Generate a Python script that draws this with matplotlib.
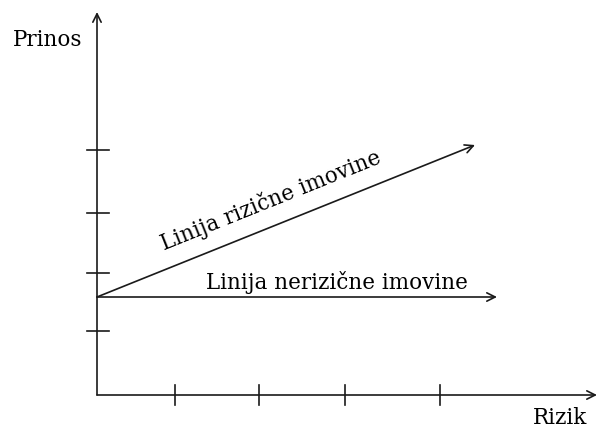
import numpy as np
import matplotlib
matplotlib.use('Agg')
import matplotlib.pyplot as plt

# axis extents (risk, return)
x_axis_end = 5.0
y_axis_end = 3.83

# tick positions
x_ticks = [0.78, 1.62, 2.48, 3.43]
y_ticks = [0.64, 1.22, 1.82, 2.45]

# lines: start and end points
risk_free = 0.98
riskless_end = [4.00, 0.98]
risky_end = [3.78, 2.50]

labels = {
  'y': 'Prinos',
  'x': 'Rizik',
  'risky': 'Linija rizične imovine',
  'riskless': 'Linija nerizične imovine',
}

plt.rcParams['font.family'] = ['DejaVu Serif']

fig = plt.figure(figsize=(5.99, 4.30), dpi=100)
ax = fig.add_axes([0, 0, 1, 1])
ax.set_xlim(-0.97, 5.02)
ax.set_ylim(-0.35, 3.95)
ax.axis('off')

col = '#1a1a1a'
arrow = dict(arrowstyle='->,head_length=0.6,head_width=0.3', color=col, lw=1.2,
             shrinkA=0, shrinkB=0)

# axes
ax.annotate('', xy=(0, y_axis_end), xytext=(0, 0), arrowprops=arrow)
ax.annotate('', xy=(x_axis_end, 0), xytext=(0, 0), arrowprops=arrow)

# ticks crossing the axes
for t in x_ticks:
  ax.plot([t, t], [-0.1, 0.1], color=col, lw=1.2)
for t in y_ticks:
  ax.plot([-0.1, 0.12], [t, t], color=col, lw=1.2)

# lines
ax.annotate('', xy=tuple(riskless_end), xytext=(0, risk_free), arrowprops=arrow)
ax.annotate('', xy=tuple(risky_end), xytext=(0, risk_free), arrowprops=arrow)

fs = 15.5
angle = np.degrees(np.arctan2(risky_end[1] - risk_free, risky_end[0]))
ax.text(1.74, 1.95, labels['risky'], fontsize=fs, rotation=angle,
        rotation_mode='anchor', ha='center', va='center', color='black')
ax.text(2.40, 1.12, labels['riskless'], fontsize=fs, ha='center', va='center', color='black')
ax.text(-0.49, 3.55, labels['y'], fontsize=fs, ha='center', va='center', color='black')
ax.text(4.63, -0.235, labels['x'], fontsize=fs, ha='center', va='center', color='black')

fig.savefig('out.png', dpi=100)
plt.close()
